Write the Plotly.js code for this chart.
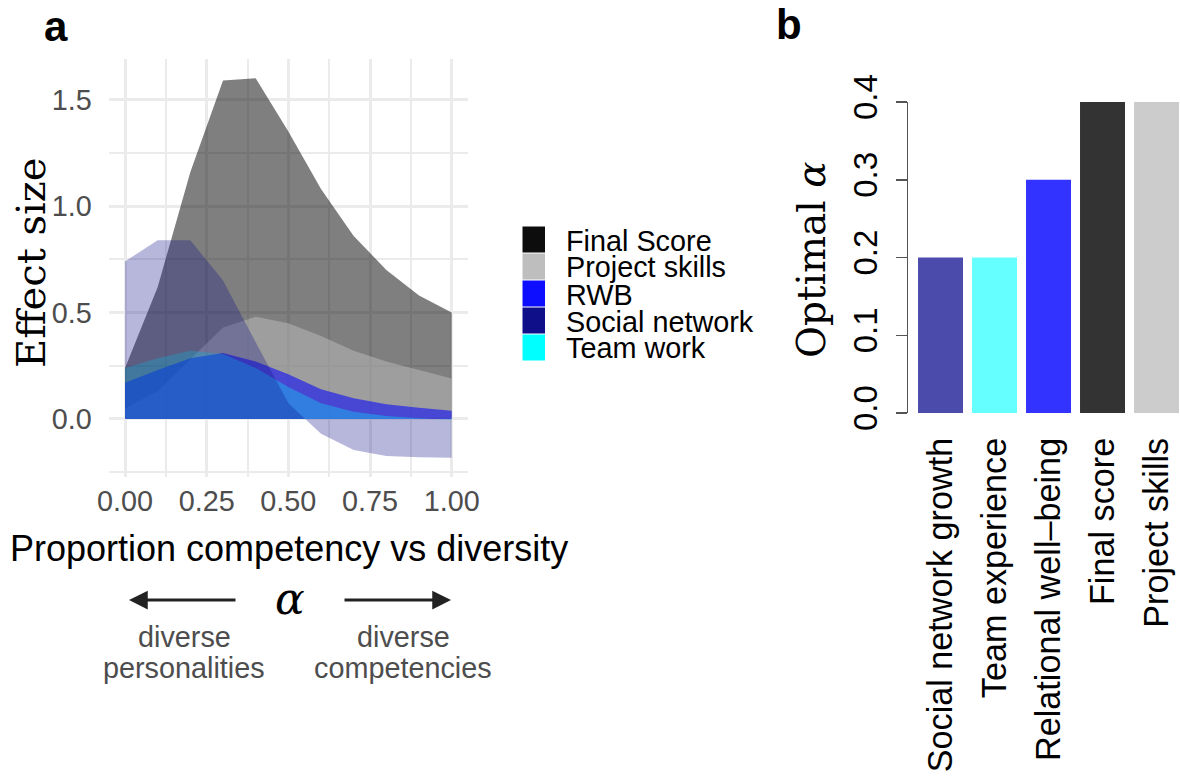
<!DOCTYPE html>
<html>
<head>
<meta charset="utf-8">
<script src="https://cdn.plot.ly/plotly-3.0.1.min.js"></script>
<style>html,body{margin:0;padding:0;background:#fff;}#chart{width:1180px;height:777px;}</style>
</head>
<body>
<div id="chart"></div>
<script>
// ---------- data (panel a) ----------
const alphaGrid = [0, 0.1, 0.2, 0.3, 0.4, 0.5, 0.6, 0.7, 0.8, 0.9, 1.0];
const seriesNames = ['Final Score', 'Project skills', 'RWB', 'Social network', 'Team work'];
const finalScore    = [0.24, 0.62, 1.16, 1.59, 1.60, 1.35, 1.08, 0.86, 0.70, 0.58, 0.50];
const projectSkills = [0.05, 0.13, 0.28, 0.43, 0.48, 0.45, 0.39, 0.32, 0.27, 0.23, 0.19];
const rwb           = [0.17, 0.23, 0.285, 0.31, 0.27, 0.21, 0.14, 0.097, 0.069, 0.053, 0.039];
const socialNetwork = [0.74, 0.84, 0.84, 0.65, 0.36, 0.074, -0.07, -0.146, -0.174, -0.18, -0.182];
const teamWork      = [0.24, 0.285, 0.32, 0.305, 0.24, 0.15, 0.074, 0.034, 0.014, 0.003, -0.005];
const xTickVals = [0, 0.25, 0.5, 0.75, 1];
const yTickVals = [0, 0.5, 1, 1.5];

// ---------- data (panel b) ----------
const outcomeLabels = ['Social network growth', 'Team experience', 'Relational well\u2013being', 'Final score', 'Project skills'];
const optimalAlpha  = [0.2, 0.2, 0.3, 0.4, 0.4];
const barTickVals   = [0, 0.1, 0.2, 0.3, 0.4];

// ---------- styles ----------
const fillColors   = ['rgba(0,0,0,0.5)', 'rgba(190,190,190,0.5)', 'rgba(0,0,255,0.55)', 'rgba(16,16,139,0.3)', 'rgba(0,255,255,0.3)'];
const legendColors = ['#0d0d0d', '#bebebe', '#0d0dff', '#0f0f8a', '#00ffff'];
const barColors    = ['#4b4bab', '#66ffff', '#3333ff', '#333333', '#cccccc'];
// drawing order of the ribbons (indices into seriesNames): social network on top
const drawOrder = [0, 1, 2, 4, 3];

const W = 1180, H = 777;
const px = v => v / W;
const py = v => 1 - v / H;

const seriesValues = [finalScore, projectSkills, rwb, socialNetwork, teamWork];
const traces = drawOrder.map(i => ({
  type: 'scatter', mode: 'none', name: seriesNames[i],
  x: alphaGrid, y: seriesValues[i],
  fill: 'tozeroy', fillcolor: fillColors[i],
  showlegend: false, xaxis: 'x', yaxis: 'y', hoverinfo: 'x+y+name'
}));
traces.push({
  type: 'bar', x: outcomeLabels, y: optimalAlpha, width: 0.833,
  marker: {color: barColors, line: {width: 0}},
  showlegend: false, xaxis: 'x2', yaxis: 'y2'
});

const tickGrey = '#4d4d4d';
const sans = 'Liberation Sans, Arial, sans-serif';
const serif = 'DejaVu Serif, serif';

const annotations = [
  {text: '<b>a</b>', x: px(56), y: py(26), xref: 'paper', yref: 'paper', showarrow: false,
   font: {family: sans, size: 42, color: '#000'}, xanchor: 'center', yanchor: 'middle'},
  {text: '<b>b</b>', x: px(789), y: py(24), xref: 'paper', yref: 'paper', showarrow: false,
   font: {family: sans, size: 42, color: '#000'}, xanchor: 'center', yanchor: 'middle'},
  {text: 'Effect size', x: px(31), y: py(263), xref: 'paper', yref: 'paper', showarrow: false,
   textangle: -90, font: {family: serif, size: 40, color: '#000'}, xanchor: 'center', yanchor: 'middle'},
  {text: 'Proportion competency vs diversity', x: px(289), y: py(548), xref: 'paper', yref: 'paper', showarrow: false,
   font: {family: sans, size: 36, color: '#000'}, xanchor: 'center', yanchor: 'middle'},
  {text: 'Optimal <i>\u03b1</i>', x: px(811), y: py(260), xref: 'paper', yref: 'paper', showarrow: false,
   textangle: -90, font: {family: serif, size: 39, color: '#000'}, xanchor: 'center', yanchor: 'middle'},
  {text: '<i>\u03b1</i>', x: px(290), y: py(598), xref: 'paper', yref: 'paper', showarrow: false,
   font: {family: serif, size: 44, color: '#000'}, xanchor: 'center', yanchor: 'middle'},
  {text: '', x: px(129), y: py(600), xref: 'paper', yref: 'paper', ax: 108, ay: 0,
   showarrow: true, arrowhead: 2, arrowsize: 1.25, arrowwidth: 3, arrowcolor: '#222'},
  {text: '', x: px(451), y: py(600), xref: 'paper', yref: 'paper', ax: -108, ay: 0,
   showarrow: true, arrowhead: 2, arrowsize: 1.25, arrowwidth: 3, arrowcolor: '#222'},
  {text: 'diverse', x: px(184), y: py(637), xref: 'paper', yref: 'paper', showarrow: false,
   font: {family: sans, size: 28.8, color: tickGrey}, xanchor: 'center', yanchor: 'middle'},
  {text: 'personalities', x: px(184), y: py(668), xref: 'paper', yref: 'paper', showarrow: false,
   font: {family: sans, size: 28.8, color: tickGrey}, xanchor: 'center', yanchor: 'middle'},
  {text: 'diverse', x: px(403), y: py(637), xref: 'paper', yref: 'paper', showarrow: false,
   font: {family: sans, size: 28.8, color: tickGrey}, xanchor: 'center', yanchor: 'middle'},
  {text: 'competencies', x: px(403), y: py(668), xref: 'paper', yref: 'paper', showarrow: false,
   font: {family: sans, size: 28.8, color: tickGrey}, xanchor: 'center', yanchor: 'middle'}
];

// legend (keys as shapes, labels as text)
const shapes = [];
const legTop = 226.5, legPitch = 27, legKeyH = 26, legKeyL = 522.5, legKeyR = 545;
seriesNames.forEach((name, i) => {
  const y0 = legTop + i * legPitch;
  shapes.push({type: 'rect', xref: 'paper', yref: 'paper', x0: px(legKeyL), x1: px(legKeyR),
    y0: py(y0), y1: py(y0 + legKeyH), fillcolor: legendColors[i], line: {width: 0}});
  annotations.push({text: name, x: px(564), y: py(y0 + legKeyH / 2 + 1), xref: 'paper', yref: 'paper',
    showarrow: false, xanchor: 'left', yanchor: 'middle', font: {family: sans, size: 28.8, color: '#000'}});
});

const layout = {
  width: W, height: H,
  margin: {l: 0, r: 0, t: 0, b: 0},
  paper_bgcolor: '#fff', plot_bgcolor: 'rgba(0,0,0,0)',
  font: {family: sans},
  showlegend: false,
  xaxis: {
    domain: [px(108.7), px(468)], range: [-0.05, 1.05], anchor: 'y',
    tickvals: xTickVals, tickformat: '.2f', ticks: '', ticklabelstandoff: 4,
    tickfont: {family: sans, size: 28.8, color: tickGrey},
    showgrid: true, gridcolor: '#ebebeb', gridwidth: 3,
    minor: {dtick: 0.125, tick0: 0, showgrid: true, gridcolor: '#ebebeb', gridwidth: 2},
    zeroline: false, showline: false, fixedrange: true
  },
  yaxis: {
    domain: [py(477.3), py(59.4)], range: [-0.274, 1.689], anchor: 'x',
    tickvals: yTickVals, tickformat: '.1f', ticks: '', ticklabelstandoff: 16,
    tickfont: {family: sans, size: 28.8, color: tickGrey},
    showgrid: true, gridcolor: '#ebebeb', gridwidth: 3,
    minor: {dtick: 0.25, tick0: 0, showgrid: true, gridcolor: '#ebebeb', gridwidth: 2},
    zeroline: false, showline: false, fixedrange: true
  },
  xaxis2: {
    domain: [px(908), 1], range: [-0.602, 4.435], anchor: 'y2', type: 'category',
    tickangle: -90, ticks: '', ticklabelstandoff: 17,
    tickfont: {family: sans, size: 34.2, color: '#000'},
    showgrid: false, zeroline: false, showline: false, fixedrange: true
  },
  yaxis2: {
    domain: [py(413), py(102)], range: [0, 0.4], anchor: 'x2',
    tickvals: barTickVals, tickformat: '.1f', tickangle: -90,
    ticks: 'outside', ticklen: 11, tickwidth: 1.5, tickcolor: '#555',
    showline: true, linecolor: '#555', linewidth: 1.5,
    ticklabelstandoff: 5,
    tickfont: {family: sans, size: 33, color: '#000'},
    showgrid: false, zeroline: false, fixedrange: true
  },
  annotations: annotations,
  shapes: shapes
};

Plotly.newPlot('chart', traces, layout, {staticPlot: true, displayModeBar: false});
</script>
</body>
</html>
